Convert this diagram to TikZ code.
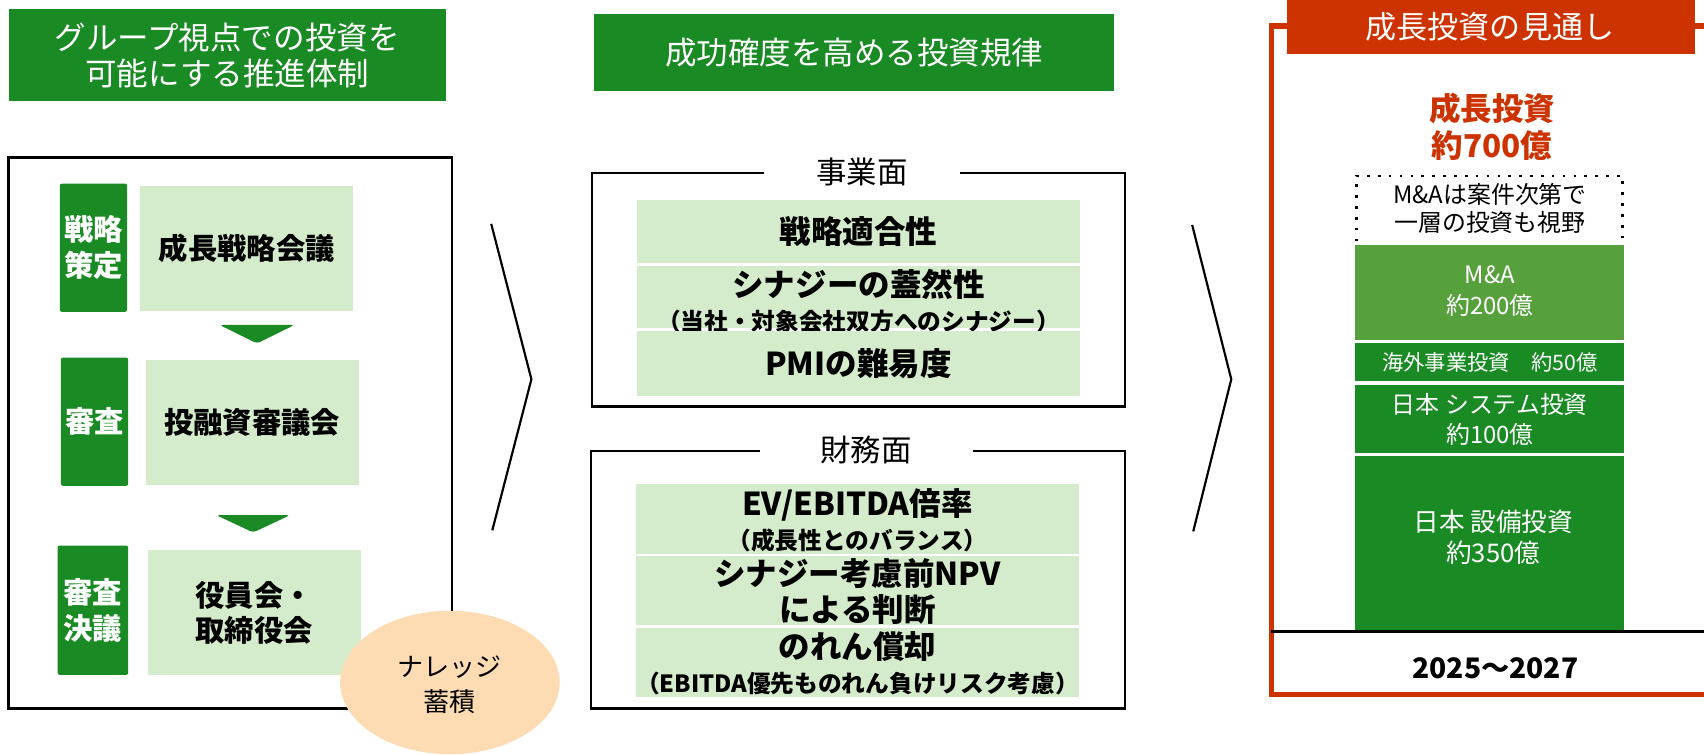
\documentclass[tikz,border=0pt]{standalone}
\usepackage{fontspec}
\setmainfont{Noto Sans CJK JP}
\usetikzlibrary{fit,shapes.geometric}
\definecolor{dgreen}{HTML}{1A8A24}
\definecolor{lgreen}{HTML}{D4ECCB}
\definecolor{mgreen}{HTML}{56A13C}
\definecolor{rred}{HTML}{CC3300}
\definecolor{peach}{HTML}{FDDCB4}
\newcommand{\fsz}[2]{\fontsize{#1}{#2}\selectfont}
\newcommand{\subf}{\bfseries\fontsize{10.9pt}{15.5pt}\selectfont}
\begin{document}
\begin{tikzpicture}[x=0.5pt,y=-0.5pt,
  bg/.style={inner sep=0pt, outer sep=0pt, draw=none},
  dg/.style={bg, fill=dgreen},
  lg/.style={bg, fill=lgreen},
  txt/.style={inner sep=0pt, align=center},
  wt/.style={txt, text=white},
  ttl/.style={wt, font=\fsz{14.5pt}{16.5pt}},
  tabt/.style={wt, font=\bfseries\fsz{13.5pt}{16.5pt}},
  boxt/.style={txt, font=\bfseries\fsz{13.5pt}{16pt}},
  rowt/.style={txt, font=\bfseries\fsz{14.5pt}{15.5pt}},
  frm/.style={bg, draw=black, line width=1.1pt},
  chev/.style={line width=1pt},
  downarr/.style={fill=dgreen, rounded corners=1.5pt},
  segt/.style={wt, font=\fsz{11pt}{14pt}},
  lbl/.style={fill=white, inner sep=0pt, font=\fsz{14pt}{16pt}, minimum height=16pt},
]
\useasboundingbox (0,0) rectangle (1568,694);
\clip (0,0) rectangle (1568,694);

% ---------------- left column ----------------
\node[dg, fit={(8,8) (410,93)}] (ltitle) {};
\node[ttl] (ltitletxt) at (209,51) {グループ視点での投資を\\可能にする推進体制};

\node[frm, fit={(8,145) (416,652)}] (lbox) {};

\node[dg, rounded corners=1pt, fit={(55,169) (117,287)}] (tab1) {};
\node[tabt] (tab1t) at (tab1.center) {戦略\\策定};
\node[lg, fit={(129,171) (325,286)}] (lb1) {};
\node[boxt] (lb1t) at (lb1.center) {成長戦略会議};

\fill[downarr] (202,299) -- (271,299) -- (236.5,316) -- cycle;

\node[dg, rounded corners=1pt, fit={(56,329) (118,447)}] (tab2) {};
\node[tabt] (tab2t) at (tab2.center) {審査};
\node[lg, fit={(134,331) (330,446)}] (lb2) {};
\node[boxt] (lb2t) at (lb2.center) {投融資審議会};

\fill[downarr] (199,474) -- (267,474) -- (233,490) -- cycle;

\node[dg, rounded corners=1pt, fit={(53,502) (118,621)}] (tab3) {};
\node[tabt] (tab3t) at (tab3.center) {審査\\決議};
\node[lg, fit={(136,506) (332,621)}] (lb3) {};
\node[boxt] (lb3t) at (234,564) {役員会・\\取締役会};

\node[ellipse, fill=peach, minimum width=101pt, minimum height=66pt, inner sep=0pt] (know) at (414,628) {};
\node[txt, font=\fsz{12pt}{16pt}] (knowt) at (414,630) {ナレッジ\\蓄積};

% chevrons
\draw[chev] (452,206) -- (489,349) -- (453,488);
\draw[chev] (1097,207) -- (1133,349) -- (1098,489);

% ---------------- middle column ----------------
\node[dg, fit={(547,13) (1025,84)}] (mtitle) {};
\node[ttl] (mtitlet) at (mtitle.center) {成功確度を高める投資規律};

\node[frm, fit={(545,159) (1035,374)}] (biz) {};
\node[lbl, minimum width=90pt] (bizl) at (793,158) {事業面};
\node[lg, fit={(586,184) (994,242)}] (r1) {};
\node[rowt] (r1t) at (r1.center) {戦略適合性};
\node[lg, fit={(586,245) (994,302)}] (r2) {};
\node[rowt] (r2t) at (790,277) {シナジーの蓋然性\\{\subf （当社・対象会社双方へのシナジー）}};
\node[lg, fit={(586,305) (994,364)}] (r3) {};
\node[rowt] (r3t) at (r3.center) {PMIの難易度};

\node[frm, fit={(544,415) (1035,652)}] (fin) {};
\node[lbl, minimum width=98pt] (finl) at (797,414) {財務面};
\node[lg, fit={(585,445) (993,510)}] (f1) {};
\node[rowt] (f1t) at (789,479) {EV/EBITDA倍率\\{\subf （成長性とのバランス）}};
\node[lg, fit={(585,512) (993,575)}] (f2) {};
\node[rowt, font=\bfseries\fsz{14.5pt}{16.5pt}] (f2t) at (789,544.5) {シナジー考慮前NPV\\による判断};
\node[lg, fit={(585,578) (993,641)}] (f3) {};
\node[rowt] (f3t) at (789,610) {のれん償却\\{\subf （EBITDA優先ものれん負けリスク考慮）}};

% ---------------- right column ----------------
\node[bg, draw=rred, line width=2.5pt, fit={(1170,24) (1600,639)}] (rframe) {};
\node[bg, fill=rred, fit={(1184,-5) (1560,50)}] (rtitle) {};
\node[txt, text=white, font=\fsz{14.3pt}{16pt}] (rtitlet) at (1371,25) {成長投資の見通し};

\node[txt, text=rred, font=\bfseries\fsz{14.5pt}{17pt}] (total) at (1373,117) {成長投資\\約700億};

\draw[line width=1.2pt, dash pattern=on 1.2pt off 3.8pt] (1248,222) -- (1248,162) -- (1493,162) -- (1493,222);
\node[txt, font=\fsz{11pt}{13pt}] (note) at (1371,192) {M\&Aは案件次第で\\一層の投資も視野};

\node[bg, fill=mgreen, fit={(1247,225) (1494,313)}] (ma) {};
\node[segt] (mat) at (1371,268) {M\&A\\約200億};
\node[dg, fit={(1247,316) (1494,351)}] (ov) {};
\node[wt, font=\fsz{9.8pt}{12pt}] (ovt) at (1371,333.5) {海外事業投資　約50億};
\node[dg, fit={(1247,354) (1494,417)}] (sys) {};
\node[segt] (syst) at (1371,386) {日本 システム投資\\約100億};
\node[dg, fit={(1247,420) (1494,581)}] (cap) {};
\node[segt, font=\fsz{11.8pt}{14.5pt}] (capt) at (1374,494.5) {日本 設備投資\\約350億};

\coordinate (axL) at (1170,581);
\coordinate (axR) at (1568,581);
\draw[line width=1.5pt] (axL) -- (axR);
\node[txt, font=\bfseries\fsz{13pt}{15pt}] (years) at (1376,615) {2025〜2027};
\end{tikzpicture}
\end{document}
